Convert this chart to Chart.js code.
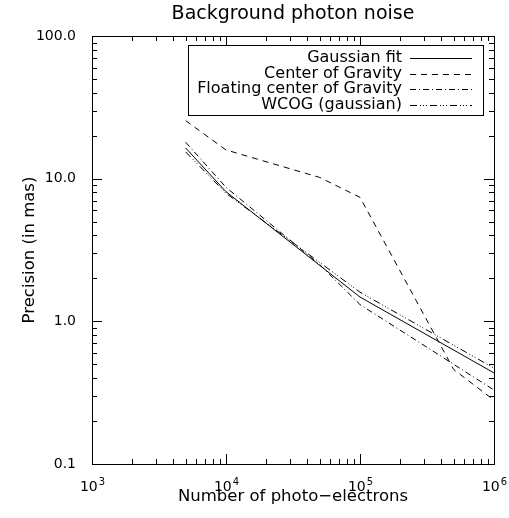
<!DOCTYPE html>
<html>
<head>
<meta charset="utf-8">
<script src="https://cdn.jsdelivr.net/npm/chart.js@4/dist/chart.umd.min.js"></script>
<style>
  html, body { margin: 0; padding: 0; background: #fff; }
  #wrap { width: 509px; height: 518px; }
</style>
</head>
<body>
<div id="wrap"><canvas id="noise-chart"></canvas></div>
<script>
// data (photo-electrons vs precision in mas), null = no point
const photons = [5e3, 1e4, 5e4, 1e5, 5e5, 1e6];
const gaussFit = [16.4, 8.1, null, 1.48, null, 0.435];
const centerGravity = [25.5, 15.9, 10.2, 7.4, 0.46, 0.28];
const floatingCog = [18.0, 8.7, 2.5, 1.31, null, 0.33];
const wcogGauss = [15.4, 7.9, null, 1.6, null, 0.47];

const xDecades = [1e3, 1e4, 1e5, 1e6];
const yDecades = [0.1, 1, 10, 100];

const FONT = '"DejaVu Sans", Verdana, sans-serif';

//turn a series into x/y points, skipping the missing ones
function toPoints(values) {
	const pts = [];
	values.forEach((v, i) => {
		if (v !== null) pts.push({ x: photons[i], y: v });
	});
	return pts;
}

function series(label, values, dash) {
	return {
		label: label,
		data: toPoints(values),
		borderColor: '#000',
		borderWidth: 1,
		borderDash: dash,
		pointRadius: 0,
		tension: 0,
		fill: false
	};
}

//IDL style frame, inward ticks on all four sides, 10^n labels, legend box and title
const idlFrame = {
	id: 'idlFrame',
	afterDraw(chart) {
		const ctx = chart.ctx;
		const a = chart.chartArea;
		const xs = chart.scales.x;
		const ys = chart.scales.y;
		ctx.save();
		ctx.strokeStyle = '#000';
		ctx.fillStyle = '#000';
		ctx.lineWidth = 1;
		ctx.strokeRect(Math.round(a.left) + 0.5, Math.round(a.top) + 0.5,
			Math.round(a.right - a.left), Math.round(a.bottom - a.top));

		ctx.beginPath();
		for (let k = 3; k <= 6; k++) {
			for (let m = 1; m <= 9; m++) {
				const v = m * Math.pow(10, k);
				if (v > 1e6) break;
				const px = Math.round(xs.getPixelForValue(v)) + 0.5;
				const len = m === 1 ? 10 : 5;
				ctx.moveTo(px, a.bottom); ctx.lineTo(px, a.bottom - len);
				ctx.moveTo(px, a.top); ctx.lineTo(px, a.top + len);
			}
		}
		for (let k = -1; k <= 2; k++) {
			for (let m = 1; m <= 9; m++) {
				const v = m * Math.pow(10, k);
				if (v > 100) break;
				const py = Math.round(ys.getPixelForValue(v)) + 0.5;
				const len = m === 1 ? 10 : 5;
				ctx.moveTo(a.left, py); ctx.lineTo(a.left + len, py);
				ctx.moveTo(a.right, py); ctx.lineTo(a.right - len, py);
			}
		}
		ctx.stroke();

		//x tick labels as 10 with a raised exponent
		ctx.textBaseline = 'alphabetic';
		ctx.textAlign = 'left';
		xDecades.forEach(v => {
			const px = xs.getPixelForValue(v);
			const exp = String(Math.round(Math.log10(v)));
			ctx.font = '14px ' + FONT;
			const wBase = ctx.measureText('10').width;
			ctx.font = '10px ' + FONT;
			const wExp = ctx.measureText(exp).width;
			const x0 = px - (wBase + wExp) / 2;
			ctx.font = '14px ' + FONT;
			ctx.fillText('10', x0, 491);
			ctx.font = '10px ' + FONT;
			ctx.fillText(exp, x0 + wBase + 1, 485);
		});

		//title
		ctx.font = '19px ' + FONT;
		ctx.textAlign = 'center';
		ctx.fillText('Background photon noise', (a.left + a.right) / 2, 19);

		//legend: text on the left, line sample on the right
		ctx.strokeRect(188.5, 45.5, 295, 70);
		ctx.font = '16px ' + FONT;
		ctx.textAlign = 'right';
		ctx.textBaseline = 'middle';
		chart.data.datasets.forEach((ds, i) => {
			const y = 58 + i * 15.5;
			ctx.fillText(ds.label, 402, y);
			ctx.beginPath();
			ctx.setLineDash(ds.borderDash);
			ctx.moveTo(410, Math.round(y) + 0.5);
			ctx.lineTo(472, Math.round(y) + 0.5);
			ctx.stroke();
			ctx.setLineDash([]);
		});
		ctx.restore();
	}
};

const noiseCanvas = document.getElementById('noise-chart');
const noiseChart = new Chart(noiseCanvas, {
	type: 'line',
	data: {
		datasets: [
			series('Gaussian fit', gaussFit, []),
			series('Center of Gravity', centerGravity, [6, 5]),
			series('Floating center of Gravity', floatingCog, [6, 3, 1, 3]),
			series('WCOG (gaussian)', wcogGauss, [7, 3, 1, 2, 1, 2, 1, 3])
		]
	},
	options: {
		responsive: true,
		maintainAspectRatio: false,
		animation: false,
		layout: { padding: { top: 36, right: 15, left: 0, bottom: 0 } },
		plugins: {
			legend: { display: false },
			tooltip: { enabled: false }
		},
		scales: {
			x: {
				type: 'logarithmic',
				min: 1e3,
				max: 1e6,
				afterBuildTicks: (s) => { s.ticks = xDecades.map(v => ({ value: v })); },
				afterFit: (s) => { s.height = 54; },
				grid: { display: false },
				border: { display: false },
				ticks: { display: false },
				title: {
					display: true,
					text: 'Number of photo\u2212electrons',
					color: '#000',
					font: { family: FONT, size: 16.5 },
					padding: { top: 0, bottom: 11 }
				}
			},
			y: {
				type: 'logarithmic',
				min: 0.1,
				max: 100,
				afterBuildTicks: (s) => { s.ticks = yDecades.map(v => ({ value: v })); },
				afterFit: (s) => { s.width = 92; },
				grid: { display: false },
				border: { display: false },
				ticks: {
					color: '#000',
					padding: 8,
					font: { family: FONT, size: 14 },
					callback: (v) => Number(v).toFixed(1)
				},
				title: {
					display: true,
					text: 'Precision (in mas)',
					color: '#000',
					font: { family: FONT, size: 16.5 },
					padding: { top: 20, bottom: 0 }
				}
			}
		}
	},
	plugins: [idlFrame]
});
</script>
</body>
</html>
